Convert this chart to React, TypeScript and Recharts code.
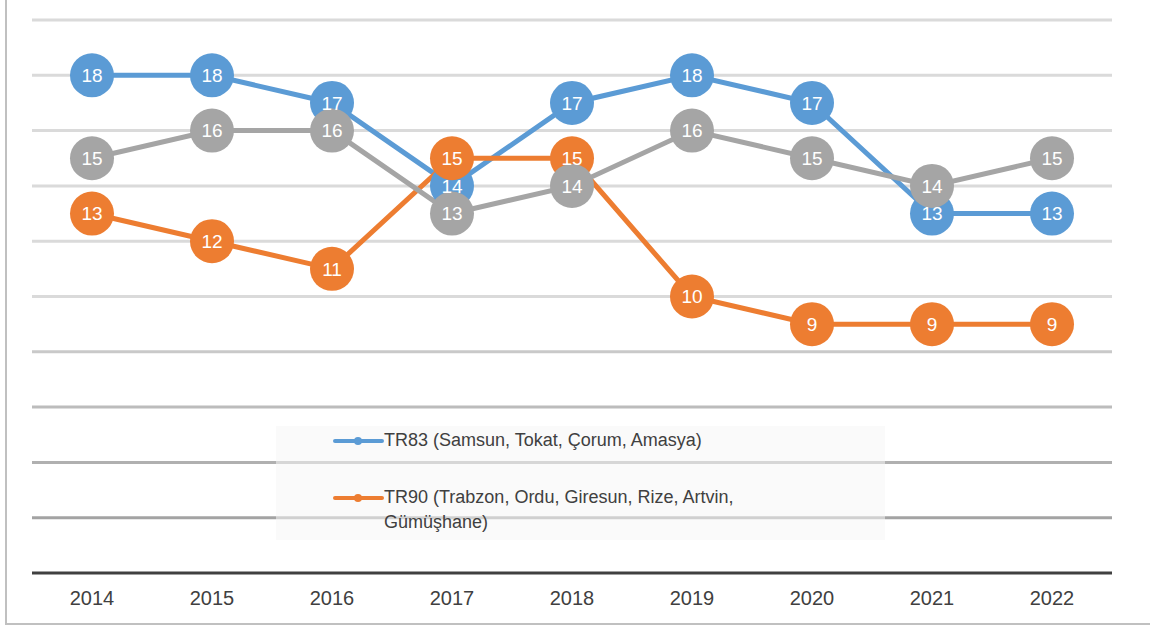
import { LineChart, Line, XAxis, YAxis, ReferenceLine, LabelList } from "recharts"

const years = ["2014", "2015", "2016", "2017", "2018", "2019", "2020", "2021", "2022"]
const tr83 = [18, 18, 17, 14, 17, 18, 17, 13, 13]
const tr90 = [13, 12, 11, 15, 15, 10, 9, 9, 9]
const other = [15, 16, 16, 13, 14, 16, 15, 14, 15]
const gridTicks = [2, 4, 6, 8, 10, 12, 14, 16, 18, 20]

const legendItems = [
  { name: "TR83 (Samsun, Tokat, Çorum, Amasya)", color: "#5B9BD5" },
  { name: "TR90 (Trabzon, Ordu, Giresun, Rize, Artvin, Gümüşhane)", color: "#ED7D31" },
]

const data = years.map((y, i) => ({ year: y, tr83: tr83[i], tr90: tr90[i], other: other[i] }))

// lower gridlines are drawn a bit darker in the original
const gridColor = (v: number) => {
  if (v <= 2) return "#a3a3a3"
  if (v <= 4) return "#b0b0b0"
  if (v <= 6) return "#bcbcbc"
  if (v <= 8) return "#c9c9c9"
  return "#dadada"
}

const series = [
  { key: "tr83", color: "#5B9BD5" },
  { key: "tr90", color: "#ED7D31" },
  { key: "other", color: "#A5A5A5" },
]

export default function App() {
  return (
    <div
      style={{
        position: "absolute",
        left: 0,
        top: 0,
        width: 1150,
        height: 627,
        background: "#fff",
        fontFamily: "'Liberation Sans', Arial, sans-serif",
        overflow: "hidden",
      }}
    >
      <div
        style={{
          position: "absolute",
          left: 5,
          top: 0,
          width: 1145,
          height: 625,
          borderLeft: "2px solid #c0c0c0",
          borderBottom: "2px solid #c0c0c0",
          boxSizing: "border-box",
        }}
      />
      <LineChart
        width={1150}
        height={627}
        data={data}
        margin={{ top: 20, right: 38, bottom: 0, left: 32 }}
        style={{ position: "absolute", left: 0, top: 0 }}
      >
        <YAxis hide domain={[0, 20]} ticks={gridTicks} />
        {gridTicks.map((v) => (
          <ReferenceLine key={v} y={v} stroke={gridColor(v)} strokeWidth={3} />
        ))}
        <XAxis
          dataKey="year"
          height={54}
          padding={{ left: 60, right: 60 }}
          axisLine={{ stroke: "#404040", strokeWidth: 3 }}
          tickLine={false}
          tick={{ fill: "#404040", fontSize: 20 }}
          dy={10}
        />
        {series.map((s) => (
          <Line
            key={s.key}
            dataKey={s.key}
            stroke={s.color}
            strokeWidth={5}
            dot={{ r: 22, fill: s.color, stroke: s.color, strokeWidth: 0 }}
            activeDot={false}
            isAnimationActive={false}
          >
            <LabelList dataKey={s.key} position="center" fill="#fff" fontSize={19} />
          </Line>
        ))}
      </LineChart>
      <div
        style={{
          position: "absolute",
          left: 276,
          top: 426,
          width: 609,
          height: 114,
          background: "rgba(246,246,246,0.55)",
        }}
      >
        {legendItems.map((it, i) => (
          <div
            key={it.name}
            style={{
              position: "absolute",
              left: 57,
              top: i === 0 ? 2 : 59,
              display: "flex",
              alignItems: "flex-start",
            }}
          >
            <svg width={51} height={24} style={{ flex: "none" }}>
              <line x1={2} y1={13} x2={49} y2={13} stroke={it.color} strokeWidth={4} strokeLinecap="round" />
              <circle cx={25} cy={13} r={4} fill={it.color} />
            </svg>
            <div style={{ color: "#404040", fontSize: 18, lineHeight: "25px", width: 420 }}>{it.name}</div>
          </div>
        ))}
      </div>
    </div>
  )
}
